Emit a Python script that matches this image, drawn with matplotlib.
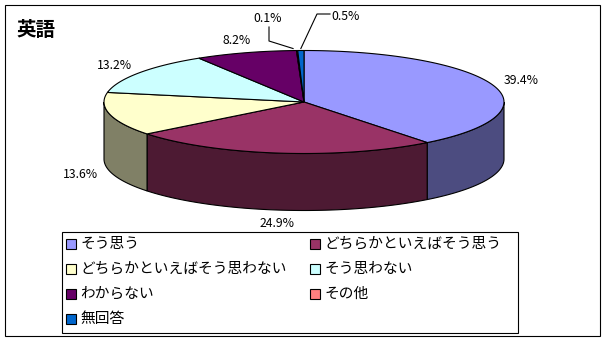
import numpy as np
import matplotlib.pyplot as plt
from matplotlib.patches import Polygon, Rectangle

plt.rcParams['font.family'] = ['Noto Sans CJK JP', 'DejaVu Sans']

# data
title = '英語'
labels = ['そう思う', 'どちらかといえばそう思う', 'どちらかといえばそう思わない',
          'そう思わない', 'わからない', 'その他', '無回答']
values = [39.4, 24.9, 13.6, 13.2, 8.2, 0.1, 0.5]
top_colors = ['#9999FF', '#993366', '#FFFFCC', '#CCFFFF', '#660066', '#FF8080', '#0066CC']
side_colors = ['#4C4C80', '#4D1A33', '#808066', '#668080', '#330033', '#804040', '#003366']

fig = plt.figure(figsize=(6.05, 3.4), dpi=100)
ax = fig.add_axes([0, 0, 1, 1])
ax.set_xlim(0, 605)
ax.set_ylim(340, 0)
ax.axis('off')

# pie geometry (pixels)
cx, cy, a, b, h = 304, 102, 200, 51.5, 57

def ell(t, dx=0, dy=0):
    r = np.radians(t)
    return cx + (a + dx) * np.sin(r), cy - (b + dy) * np.cos(r)

edges = np.concatenate([[0], np.cumsum(values)]) / sum(values) * 360

# side walls (front half only)
for i in range(len(values)):
    t1, t2 = max(edges[i], 90), min(edges[i + 1], 270)
    if t2 <= t1:
        continue
    xs, ys = ell(np.linspace(t1, t2, 80))
    poly = np.column_stack([np.r_[xs, xs[::-1]], np.r_[ys, ys[::-1] + h]])
    ax.add_patch(Polygon(poly, closed=True, fc=side_colors[i], ec='black', lw=0.8))

# top faces
for i in range(len(values)):
    xs, ys = ell(np.linspace(edges[i], edges[i + 1], 100))
    poly = np.column_stack([np.r_[cx, xs], np.r_[cy, ys]])
    ax.add_patch(Polygon(poly, closed=True, fc=top_colors[i], ec='black', lw=0.8))

# percent labels
mids = (edges[:-1] + edges[1:]) / 2
for i in range(5):
    x, y = ell(mids[i], 30, 13)
    if np.cos(np.radians(mids[i])) < 0:
        y += h
    ax.text(x, y, f'{values[i]:.1f}%', ha='center', va='center', fontsize=8.8)

# tiny slices with leader lines
tx, ty = ell(mids[5])
ax.text(268, 19, f'{values[5]:.1f}%', ha='center', va='center', fontsize=8.8)
ax.plot([269, 269, tx - 4], [27, 41, ty - 2], color='black', lw=0.8)
tx, ty = ell(mids[6])
ax.text(331, 17, f'{values[6]:.1f}%', ha='left', va='center', fontsize=8.8)
ax.plot([330, 317, tx], [14, 14, ty - 2], color='black', lw=0.8)

# title
ax.text(16, 30, title, ha='left', va='center', fontsize=14, fontweight='bold')

# legend
ax.add_patch(Rectangle((62, 232), 456, 101, fill=False, ec='black', lw=0.8))
for k, lab in enumerate(labels):
    col, row = k % 2, k // 2
    x = [66, 310][col]
    y = 244 + row * 25
    ax.add_patch(Rectangle((x, y - 5), 10, 10, fc=top_colors[k], ec='black', lw=0.8))
    ax.text(x + 14, y, lab, ha='left', va='center', fontsize=10.6)

# chart frame
ax.add_patch(Rectangle((5, 5), 595, 331, fill=False, ec='black', lw=0.8))

fig.savefig('out.png', dpi=100)
